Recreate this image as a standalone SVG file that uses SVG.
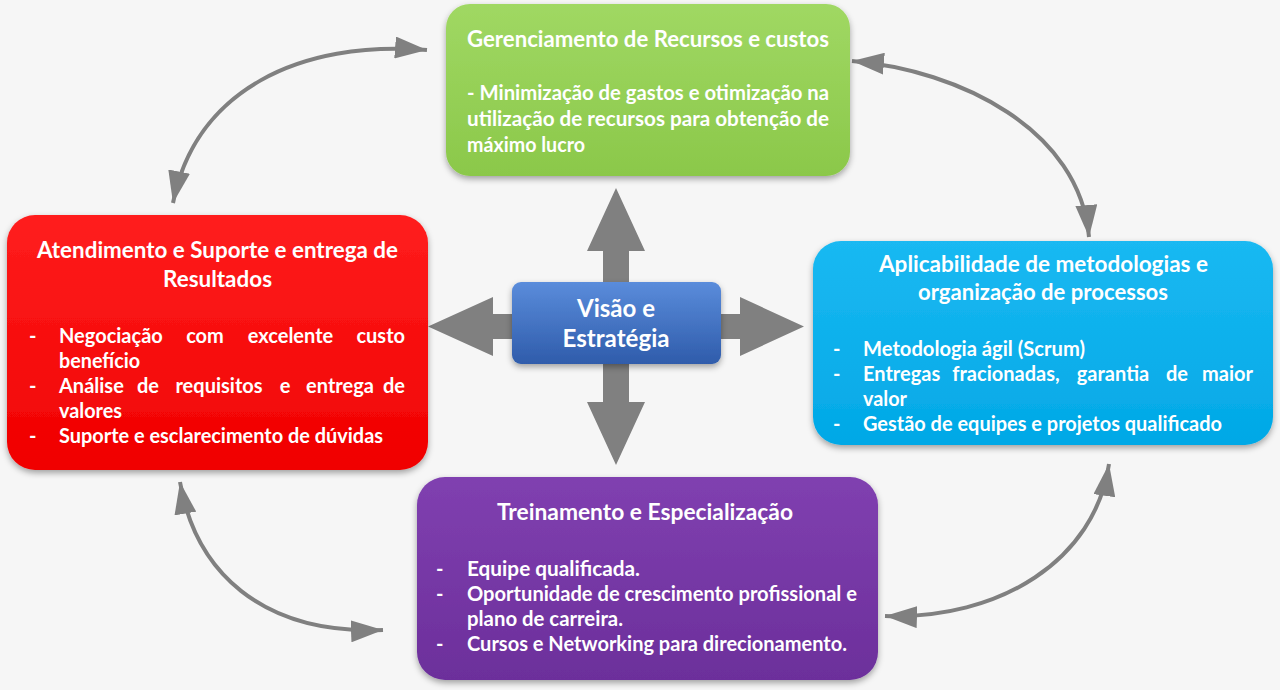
<svg xmlns="http://www.w3.org/2000/svg" width="1280" height="690" viewBox="0 0 1280 690">
<defs>
<style>
.t{font-family:Lato,"Open Sans","Liberation Sans",sans-serif;font-weight:bold;fill:#ffffff}
.h{font-size:22px;text-anchor:middle}
.b{font-size:20px}
.m{text-anchor:middle}
.e{text-anchor:end}
.c{font-size:24px;text-anchor:middle}
.conn{fill:none;stroke:#808080;stroke-width:4}
.big{fill:#808080}
</style>
<filter id="sh" x="-10%" y="-10%" width="120%" height="130%">
<feDropShadow dx="0" dy="3" stdDeviation="3" flood-color="#000" flood-opacity="0.35"/>
</filter>
<linearGradient id="gG" x1="0" y1="0" x2="0" y2="1"><stop offset="0" stop-color="#a0d863"/><stop offset="1" stop-color="#8bc84a"/></linearGradient>
<linearGradient id="gR" x1="0" y1="0" x2="0" y2="1"><stop offset="0" stop-color="#ff1e1e"/><stop offset="1" stop-color="#f00000"/></linearGradient>
<linearGradient id="gB" x1="0" y1="0" x2="0" y2="1"><stop offset="0" stop-color="#1ab9f2"/><stop offset="1" stop-color="#02a8e6"/></linearGradient>
<linearGradient id="gP" x1="0" y1="0" x2="0" y2="1"><stop offset="0" stop-color="#8040b0"/><stop offset="1" stop-color="#6c2f9b"/></linearGradient>
<linearGradient id="gC" x1="0" y1="0" x2="0" y2="1"><stop offset="0" stop-color="#5a8cdb"/><stop offset="1" stop-color="#2f5cab"/></linearGradient>
<marker id="ah" viewBox="0 0 32 22" markerWidth="32" markerHeight="22" refX="32" refY="11" markerUnits="userSpaceOnUse" orient="auto-start-reverse">
<path d="M0 0 L32 11 L0 22 z" fill="#808080"/>
</marker>
</defs>
<rect width="1280" height="690" fill="#f6f6f6"/>

<g id="connectors">
<path class="conn" d="M 427 50 C 300 40, 195 90, 173 203" marker-start="url(#ah)" marker-end="url(#ah)"/>
<path class="conn" d="M 852 61 C 960 70, 1080 130, 1089 237" marker-start="url(#ah)" marker-end="url(#ah)"/>
<path class="conn" d="M 1109 464 C 1095 560, 1000 620, 885 616" marker-start="url(#ah)" marker-end="url(#ah)"/>
<path class="conn" d="M 180 482 C 195 570, 260 635, 383 630" marker-start="url(#ah)" marker-end="url(#ah)"/>
<polygon class="big" points="603,283 603,251 587,251 616,188 645,251 629,251 629,283"/>
<polygon class="big" points="603,363 603,402 587,402 616,465 645,402 629,402 629,363"/>
<polygon class="big" points="513,314 493,314 493,297 428,326.5 493,356 493,339 513,339"/>
<polygon class="big" points="720,314 740,314 740,297 804,326.5 740,356 740,339 720,339"/>
</g>

<g id="node-recursos">
<rect x="446" y="4" width="404" height="172" rx="24" fill="url(#gG)" filter="url(#sh)"/>
<text class="t h" x="648" y="47" textLength="362" lengthAdjust="spacingAndGlyphs">Gerenciamento de Recursos e custos</text>
<text class="t b" x="467" y="100" textLength="362" lengthAdjust="spacingAndGlyphs">- Minimização de gastos e otimização na</text>
<text class="t b" x="467" y="126" textLength="362" lengthAdjust="spacingAndGlyphs">utilização de recursos para obtenção de</text>
<text class="t b" x="467" y="152" textLength="118" lengthAdjust="spacingAndGlyphs">máximo lucro</text>
</g>

<g id="node-atendimento">
<rect x="7" y="215" width="421" height="255" rx="28" fill="url(#gR)" filter="url(#sh)"/>
<text class="t h" x="217.5" y="258" textLength="361" lengthAdjust="spacingAndGlyphs">Atendimento e Suporte e entrega de</text>
<text class="t h" x="217.5" y="287" textLength="109" lengthAdjust="spacingAndGlyphs">Resultados</text>
<text class="t b" x="29" y="343">-</text>
<text class="t b" x="59" y="343">Negociação</text>
<text class="t b m" x="205" y="343">com</text>
<text class="t b m" x="290.5" y="343">excelente</text>
<text class="t b e" x="405" y="343">custo</text>
<text class="t b" x="59" y="368" textLength="81" lengthAdjust="spacingAndGlyphs">benefício</text>
<text class="t b" x="29" y="393">-</text>
<text class="t b" x="59" y="393">Análise</text>
<text class="t b m" x="148" y="393">de</text>
<text class="t b m" x="219" y="393">requisitos</text>
<text class="t b m" x="285" y="393">e</text>
<text class="t b m" x="340" y="393">entrega</text>
<text class="t b e" x="405" y="393">de</text>
<text class="t b" x="59" y="418" textLength="63" lengthAdjust="spacingAndGlyphs">valores</text>
<text class="t b" x="29" y="443">-</text>
<text class="t b" x="59" y="443" textLength="324" lengthAdjust="spacingAndGlyphs">Suporte e esclarecimento de dúvidas</text>
</g>

<g id="node-metodologias">
<rect x="813" y="241" width="460" height="204" rx="28" fill="url(#gB)" filter="url(#sh)"/>
<text class="t h" x="1043.5" y="272" textLength="329" lengthAdjust="spacingAndGlyphs">Aplicabilidade de metodologias e</text>
<text class="t h" x="1043" y="300" textLength="250" lengthAdjust="spacingAndGlyphs">organização de processos</text>
<text class="t b" x="833" y="356">-</text>
<text class="t b" x="863" y="356" textLength="222" lengthAdjust="spacingAndGlyphs">Metodologia ágil (Scrum)</text>
<text class="t b" x="833" y="381">-</text>
<text class="t b" x="863" y="381">Entregas</text>
<text class="t b m" x="1006" y="381">fracionadas,</text>
<text class="t b m" x="1113" y="381">garantia</text>
<text class="t b m" x="1177" y="381">de</text>
<text class="t b e" x="1253" y="381">maior</text>
<text class="t b" x="863" y="406" textLength="44" lengthAdjust="spacingAndGlyphs">valor</text>
<text class="t b" x="833" y="431">-</text>
<text class="t b" x="863" y="431" textLength="359" lengthAdjust="spacingAndGlyphs">Gestão de equipes e projetos qualificado</text>
</g>

<g id="node-treinamento">
<rect x="417" y="477" width="461" height="203" rx="28" fill="url(#gP)" filter="url(#sh)"/>
<text class="t h" x="645" y="520" textLength="296" lengthAdjust="spacingAndGlyphs">Treinamento e Especialização</text>
<text class="t b" x="436" y="576">-</text>
<text class="t b" x="467" y="576" textLength="173" lengthAdjust="spacingAndGlyphs">Equipe qualificada.</text>
<text class="t b" x="436" y="601">-</text>
<text class="t b" x="467" y="601" textLength="390" lengthAdjust="spacingAndGlyphs">Oportunidade de crescimento profissional e</text>
<text class="t b" x="467" y="626" textLength="156" lengthAdjust="spacingAndGlyphs">plano de carreira.</text>
<text class="t b" x="436" y="651">-</text>
<text class="t b" x="467" y="651" textLength="380" lengthAdjust="spacingAndGlyphs">Cursos e Networking para direcionamento.</text>
</g>

<g id="node-visao">
<rect x="512" y="282" width="209" height="82" rx="9" fill="url(#gC)" filter="url(#sh)"/>
<text class="t c" x="616" y="317" textLength="78" lengthAdjust="spacingAndGlyphs">Visão e</text>
<text class="t c" x="616" y="347" textLength="107" lengthAdjust="spacingAndGlyphs">Estratégia</text>
</g>
</svg>
